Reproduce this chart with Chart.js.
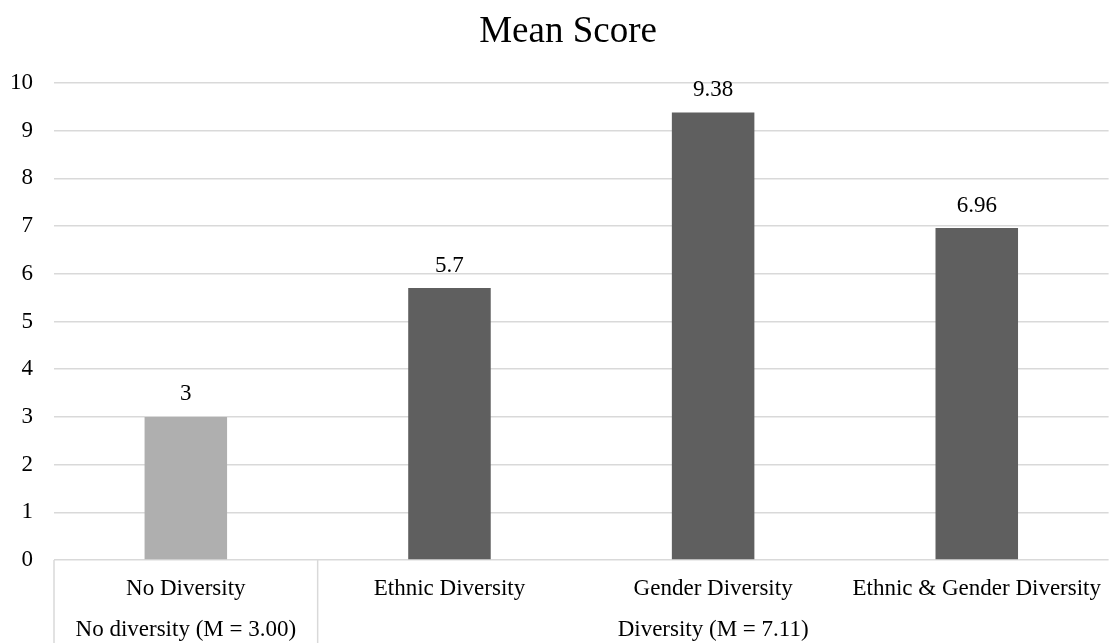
<!DOCTYPE html>
<html>
<head>
<meta charset="utf-8">
<title>Mean Score</title>
<script src="https://cdn.jsdelivr.net/npm/chart.js@4.4.1/dist/chart.umd.min.js"></script>
<style>
  html, body { margin: 0; padding: 0; background: #ffffff; overflow: hidden; }
  #wrap { width: 1116px; height: 643px; }
</style>
</head>
<body>
<div id="wrap"><canvas id="chart" width="1116" height="643"></canvas></div>
<script>
// Chart data
const chartTitle = 'Mean Score';
const categories = ['No Diversity', 'Ethnic Diversity', 'Gender Diversity', 'Ethnic & Gender Diversity'];
const meanScores = [3, 5.7, 9.38, 6.96];
const groupLabels = ['No diversity (M = 3.00)', 'Diversity (M = 7.11)'];
const groupFirst = [0, 1];   // first category index of each group
const groupLast = [0, 3];    // last category index of each group
const yTicks = [0, 1, 2, 3, 4, 5, 6, 7, 8, 9, 10];

const FONT = '"Liberation Serif", "Times New Roman", serif';
const GRID = '#d9d9d9';
const groupColors = ['#afafaf', '#5f5f5f'];

function groupOf(i) {
  for (let g = 0; g < groupFirst.length; g++) {
    if (i >= groupFirst[g] && i <= groupLast[g]) return g;
  }
  return 0;
}
const barColors = categories.map((_, i) => groupColors[groupOf(i)]);

// Title, value labels above bars, second-level group labels and the category box lines
const extrasPlugin = {
  id: 'extras',
  afterDatasetsDraw(chart) {
    const ctx = chart.ctx;
    const meta = chart.getDatasetMeta(0);
    ctx.save();
    ctx.font = '23px ' + FONT;
    ctx.fillStyle = '#000000';
    ctx.textAlign = 'center';
    ctx.textBaseline = 'alphabetic';
    meta.data.forEach((bar, i) => {
      ctx.fillText(String(meanScores[i]), bar.x, bar.y - 16.5);
    });
    ctx.restore();
  },
  afterDraw(chart) {
    const ctx = chart.ctx;
    const x = chart.scales.x;
    const area = chart.chartArea;
    const bottom = chart.height;
    const half = (x.getPixelForValue(1) - x.getPixelForValue(0)) / 2;
    ctx.save();

    // title
    ctx.font = '37px ' + FONT;
    ctx.fillStyle = '#000000';
    ctx.textAlign = 'center';
    ctx.textBaseline = 'alphabetic';
    ctx.fillText(chartTitle, 568, 42);

    ctx.strokeStyle = GRID;
    ctx.lineWidth = 1.5;
    // left edge of the category box
    ctx.beginPath();
    ctx.moveTo(area.left, area.bottom);
    ctx.lineTo(area.left, bottom);
    ctx.stroke();
    // separators between groups
    for (let g = 0; g < groupFirst.length - 1; g++) {
      const sx = x.getPixelForValue(groupLast[g]) + half;
      ctx.beginPath();
      ctx.moveTo(sx, area.bottom);
      ctx.lineTo(sx, bottom);
      ctx.stroke();
    }
    // group labels
    ctx.font = '23px ' + FONT;
    groupLabels.forEach((lab, g) => {
      const cx = (x.getPixelForValue(groupFirst[g]) + x.getPixelForValue(groupLast[g])) / 2;
      ctx.fillText(lab, cx, 636);
    });
    ctx.restore();
  }
};

new Chart(document.getElementById('chart'), {
  type: 'bar',
  data: {
    labels: categories,
    datasets: [{
      data: meanScores,
      backgroundColor: barColors,
      borderWidth: 0,
      barPercentage: 0.313,
      categoryPercentage: 1.0
    }]
  },
  options: {
    responsive: false,
    animation: false,
    layout: { padding: { left: 0, right: 0, top: 83, bottom: 0 } },
    plugins: {
      legend: { display: false },
      tooltip: { enabled: false },
      title: { display: false }
    },
    scales: {
      x: {
        grid: { display: false, drawTicks: false },
        border: { display: false },
        ticks: {
          color: '#000000',
          font: { family: FONT, size: 23 },
          padding: 15,
          maxRotation: 0,
          autoSkip: false
        },
        afterFit(scale) { scale.height = 83; }
      },
      y: {
        min: 0,
        max: 10,
        afterBuildTicks(scale) { scale.ticks = yTicks.map(v => ({ value: v })); },
        grid: { color: GRID, lineWidth: 1.5, drawTicks: false },
        border: { display: false },
        ticks: {
          color: '#000000',
          font: { family: FONT, size: 23 },
          padding: 21
        },
        afterFit(scale) { scale.width = 54; }
      }
    }
  },
  plugins: [extrasPlugin]
});
</script>
</body>
</html>
